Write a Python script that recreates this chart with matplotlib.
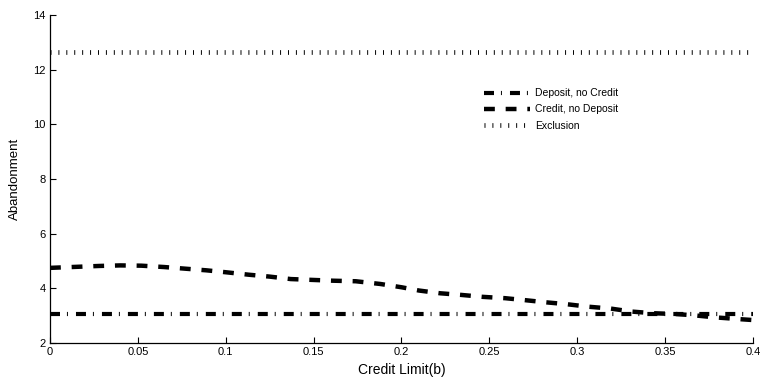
import matplotlib
matplotlib.use('Agg')
import matplotlib.pyplot as plt
from matplotlib.ticker import FormatStrFormatter

plt.rcParams['font.family'] = ['Liberation Sans', 'DejaVu Sans']
plt.rcParams['lines.scale_dashes'] = False

# values
credit_limit = [0.0, 0.016, 0.028, 0.04, 0.052, 0.065, 0.077, 0.089, 0.1, 0.113,
                0.125, 0.137, 0.149, 0.161, 0.174, 0.188, 0.2, 0.21, 0.222, 0.234,
                0.246, 0.259, 0.27, 0.282, 0.294, 0.306, 0.319, 0.331, 0.343, 0.356,
                0.367, 0.378, 0.393, 0.4]
credit_no_deposit = [4.75, 4.79, 4.82, 4.84, 4.83, 4.78, 4.72, 4.66, 4.59, 4.50,
                     4.43, 4.34, 4.31, 4.28, 4.26, 4.16, 4.04, 3.92, 3.82, 3.76,
                     3.69, 3.64, 3.57, 3.49, 3.42, 3.33, 3.26, 3.15, 3.09, 3.06,
                     3.01, 2.94, 2.87, 2.84]
flat_x = [0.0, 0.4]
deposit_no_credit = [3.06, 3.06]
exclusion = [12.65, 12.65]

x_ticks = [0, 0.05, 0.1, 0.15, 0.2, 0.25, 0.3, 0.35, 0.4]
y_ticks = [2, 4, 6, 8, 10, 12, 14]

fig = plt.figure(figsize=(7.62, 3.79), dpi=100)
ax = fig.add_axes([0.0656, 0.095, 0.9226, 0.865])

ax.plot(flat_x, deposit_no_credit, color='black', linewidth=3.0,
        dashes=(7.2, 5.0, 0.7, 5.8), dash_capstyle='butt',
        label='Deposit, no Credit')
ax.plot(credit_limit, credit_no_deposit, color='black', linewidth=3.2,
        dashes=(7.8, 7.8), dash_capstyle='butt',
        label='Credit, no Deposit')
ax.plot(flat_x, exclusion, color='black', linewidth=3.4,
        dashes=(0.7, 5.0), dash_capstyle='butt',
        label='Exclusion')

ax.set_xlim(0, 0.4)
ax.set_ylim(2, 14)
ax.set_xticks(x_ticks)
ax.set_yticks(y_ticks)
ax.xaxis.set_major_formatter(FormatStrFormatter('%g'))
ax.tick_params(direction='in', length=4, width=0.8, labelsize=8, pad=3)
for side in ['top', 'right']:
    ax.spines[side].set_visible(False)
for side in ['left', 'bottom']:
    ax.spines[side].set_linewidth(0.9)

ax.set_xlabel('Credit Limit(b)', fontsize=10, labelpad=4)
ax.set_ylabel('Abandonment', fontsize=9.5, labelpad=9)

ax.legend(loc='upper left', bbox_to_anchor=(0.612, 0.79), frameon=False,
          fontsize=7.5, handlelength=4.4, handletextpad=0.5, labelspacing=0.6,
          borderaxespad=0)

fig.savefig('out.png', dpi=100)
